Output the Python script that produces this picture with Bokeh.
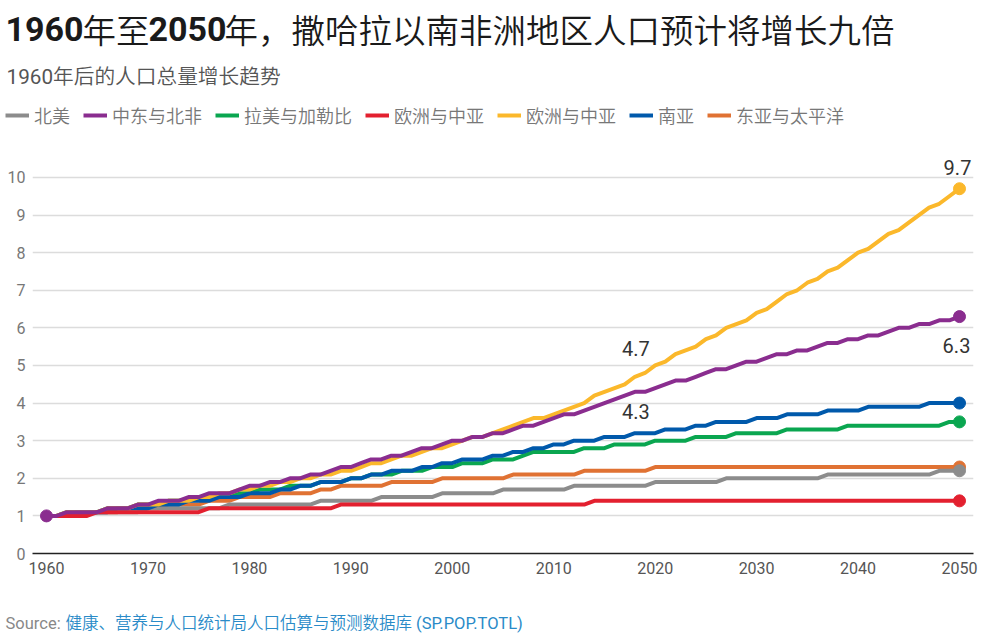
from bokeh.plotting import figure
from bokeh.models import Range1d, Label, Legend, LegendItem, FixedTicker
from bokeh.embed import file_html
from bokeh.resources import INLINE
from bokeh.core.properties import value

years = list(range(1960, 2051))

# Index, 1960 = 1
north_america = [
    1.0, 1.0, 1.0, 1.1, 1.1, 1.1, 1.1, 1.1, 1.1, 1.1,
    1.2, 1.2, 1.2, 1.2, 1.2, 1.2, 1.2, 1.2, 1.3, 1.3,
    1.3, 1.3, 1.3, 1.3, 1.3, 1.3, 1.3, 1.4, 1.4, 1.4,
    1.4, 1.4, 1.4, 1.5, 1.5, 1.5, 1.5, 1.5, 1.5, 1.6,
    1.6, 1.6, 1.6, 1.6, 1.6, 1.7, 1.7, 1.7, 1.7, 1.7,
    1.7, 1.7, 1.8, 1.8, 1.8, 1.8, 1.8, 1.8, 1.8, 1.8,
    1.9, 1.9, 1.9, 1.9, 1.9, 1.9, 1.9, 2.0, 2.0, 2.0,
    2.0, 2.0, 2.0, 2.0, 2.0, 2.0, 2.0, 2.1, 2.1, 2.1,
    2.1, 2.1, 2.1, 2.1, 2.1, 2.1, 2.1, 2.1, 2.2, 2.2,
    2.2]
mena = [
    1.0, 1.0, 1.1, 1.1, 1.1, 1.1, 1.2, 1.2, 1.2, 1.3,
    1.3, 1.4, 1.4, 1.4, 1.5, 1.5, 1.6, 1.6, 1.6, 1.7,
    1.8, 1.8, 1.9, 1.9, 2.0, 2.0, 2.1, 2.1, 2.2, 2.3,
    2.3, 2.4, 2.5, 2.5, 2.6, 2.6, 2.7, 2.8, 2.8, 2.9,
    3.0, 3.0, 3.1, 3.1, 3.2, 3.2, 3.3, 3.4, 3.4, 3.5,
    3.6, 3.7, 3.7, 3.8, 3.9, 4.0, 4.1, 4.2, 4.3, 4.3,
    4.4, 4.5, 4.6, 4.6, 4.7, 4.8, 4.9, 4.9, 5.0, 5.1,
    5.1, 5.2, 5.3, 5.3, 5.4, 5.4, 5.5, 5.6, 5.6, 5.7,
    5.7, 5.8, 5.8, 5.9, 6.0, 6.0, 6.1, 6.1, 6.2, 6.2,
    6.3]
latam = [
    1.0, 1.0, 1.1, 1.1, 1.1, 1.1, 1.2, 1.2, 1.2, 1.3,
    1.3, 1.3, 1.4, 1.4, 1.4, 1.5, 1.5, 1.5, 1.6, 1.6,
    1.6, 1.7, 1.7, 1.7, 1.8, 1.8, 1.8, 1.9, 1.9, 1.9,
    2.0, 2.0, 2.1, 2.1, 2.1, 2.2, 2.2, 2.2, 2.3, 2.3,
    2.3, 2.4, 2.4, 2.4, 2.5, 2.5, 2.5, 2.6, 2.7, 2.7,
    2.7, 2.7, 2.7, 2.8, 2.8, 2.8, 2.9, 2.9, 2.9, 2.9,
    3.0, 3.0, 3.0, 3.0, 3.1, 3.1, 3.1, 3.1, 3.2, 3.2,
    3.2, 3.2, 3.2, 3.3, 3.3, 3.3, 3.3, 3.3, 3.3, 3.4,
    3.4, 3.4, 3.4, 3.4, 3.4, 3.4, 3.4, 3.4, 3.4, 3.5,
    3.5]
europe = [
    1.0, 1.0, 1.0, 1.0, 1.0, 1.1, 1.1, 1.1, 1.1, 1.1,
    1.1, 1.1, 1.1, 1.1, 1.1, 1.1, 1.2, 1.2, 1.2, 1.2,
    1.2, 1.2, 1.2, 1.2, 1.2, 1.2, 1.2, 1.2, 1.2, 1.3,
    1.3, 1.3, 1.3, 1.3, 1.3, 1.3, 1.3, 1.3, 1.3, 1.3,
    1.3, 1.3, 1.3, 1.3, 1.3, 1.3, 1.3, 1.3, 1.3, 1.3,
    1.3, 1.3, 1.3, 1.3, 1.4, 1.4, 1.4, 1.4, 1.4, 1.4,
    1.4, 1.4, 1.4, 1.4, 1.4, 1.4, 1.4, 1.4, 1.4, 1.4,
    1.4, 1.4, 1.4, 1.4, 1.4, 1.4, 1.4, 1.4, 1.4, 1.4,
    1.4, 1.4, 1.4, 1.4, 1.4, 1.4, 1.4, 1.4, 1.4, 1.4,
    1.4]
ssa = [
    1.0, 1.0, 1.1, 1.1, 1.1, 1.1, 1.2, 1.2, 1.2, 1.3,
    1.3, 1.3, 1.4, 1.4, 1.4, 1.5, 1.5, 1.6, 1.6, 1.7,
    1.7, 1.8, 1.8, 1.9, 1.9, 2.0, 2.0, 2.1, 2.1, 2.2,
    2.2, 2.3, 2.4, 2.4, 2.5, 2.6, 2.6, 2.7, 2.8, 2.8,
    2.9, 3.0, 3.1, 3.1, 3.2, 3.3, 3.4, 3.5, 3.6, 3.6,
    3.7, 3.8, 3.9, 4.0, 4.2, 4.3, 4.4, 4.5, 4.7, 4.8,
    5.0, 5.1, 5.3, 5.4, 5.5, 5.7, 5.8, 6.0, 6.1, 6.2,
    6.4, 6.5, 6.7, 6.9, 7.0, 7.2, 7.3, 7.5, 7.6, 7.8,
    8.0, 8.1, 8.3, 8.5, 8.6, 8.8, 9.0, 9.2, 9.3, 9.5,
    9.7]
south_asia = [
    1.0, 1.0, 1.0, 1.1, 1.1, 1.1, 1.1, 1.2, 1.2, 1.2,
    1.2, 1.3, 1.3, 1.3, 1.4, 1.4, 1.4, 1.5, 1.5, 1.5,
    1.6, 1.6, 1.6, 1.7, 1.7, 1.8, 1.8, 1.9, 1.9, 1.9,
    2.0, 2.0, 2.1, 2.1, 2.2, 2.2, 2.2, 2.3, 2.3, 2.4,
    2.4, 2.5, 2.5, 2.5, 2.6, 2.6, 2.7, 2.7, 2.8, 2.8,
    2.9, 2.9, 3.0, 3.0, 3.0, 3.1, 3.1, 3.1, 3.2, 3.2,
    3.2, 3.3, 3.3, 3.3, 3.4, 3.4, 3.5, 3.5, 3.5, 3.5,
    3.6, 3.6, 3.6, 3.7, 3.7, 3.7, 3.7, 3.8, 3.8, 3.8,
    3.8, 3.9, 3.9, 3.9, 3.9, 3.9, 3.9, 4.0, 4.0, 4.0,
    4.0]
east_asia = [
    1.0, 1.0, 1.0, 1.1, 1.1, 1.1, 1.1, 1.1, 1.2, 1.2,
    1.2, 1.2, 1.3, 1.3, 1.3, 1.3, 1.4, 1.4, 1.4, 1.5,
    1.5, 1.5, 1.5, 1.6, 1.6, 1.6, 1.6, 1.7, 1.7, 1.8,
    1.8, 1.8, 1.8, 1.8, 1.9, 1.9, 1.9, 1.9, 1.9, 2.0,
    2.0, 2.0, 2.0, 2.0, 2.0, 2.0, 2.1, 2.1, 2.1, 2.1,
    2.1, 2.1, 2.1, 2.2, 2.2, 2.2, 2.2, 2.2, 2.2, 2.2,
    2.3, 2.3, 2.3, 2.3, 2.3, 2.3, 2.3, 2.3, 2.3, 2.3,
    2.3, 2.3, 2.3, 2.3, 2.3, 2.3, 2.3, 2.3, 2.3, 2.3,
    2.3, 2.3, 2.3, 2.3, 2.3, 2.3, 2.3, 2.3, 2.3, 2.3,
    2.3]

series_names = ["北美", "中东与北非", "拉美与加勒比", "欧洲与中亚", "欧洲与中亚", "南亚", "东亚与太平洋"]
series_values = [north_america, mena, latam, europe, ssa, south_asia, east_asia]
series_colors = ["#8c8c8c", "#8a2d8f", "#0aa650", "#e3202f", "#fbb82b", "#0059ab", "#e07233"]
draw_order = [6, 0, 2, 5, 4, 3, 1]

x_ticks = [1960, 1970, 1980, 1990, 2000, 2010, 2020, 2030, 2040, 2050]
y_ticks = [0, 1, 2, 3, 4, 5, 6, 7, 8, 9, 10]

title_parts = ["1960", "年至", "2050", "年，撒哈拉以南非洲地区人口预计将增长九倍"]
subtitle = "1960年后的人口总量增长趋势"
source_prefix = "Source:"
source_text = "健康、营养与人口统计局人口估算与预测数据库 (SP.POP.TOTL)"

# annotated points: (series index, year)
annot = [(4, 2050), (1, 2050), (4, 2018), (1, 2018)]

CJK = "Noto Sans CJK SC DemiLight, Noto Sans CJK SC"
LATIN = "Roboto, Noto Sans CJK SC DemiLight, Noto Sans CJK SC"
W = 981
HEAD_H = 146
MAIN_H = 443
FOOT_H = 48


def text_panel(h):
    f = figure(width=W, height=h, output_backend="svg", toolbar_location=None, tools="",
               x_range=Range1d(0, W), y_range=Range1d(h, 0), min_border=0,
               x_axis_type=None, y_axis_type=None)
    f.outline_line_color = None
    f.xgrid.visible = False
    f.ygrid.visible = False
    return f


# ---------- header: title, subtitle, legend ----------
head = text_panel(HEAD_H)
title_x = [5, 82, 148, 224]
title_bold = [True, False, True, False]
for txt, X, b in zip(title_parts, title_x, title_bold):
    head.add_layout(Label(x=X, y=28, text=txt,
                          text_font=("Roboto" if b else CJK),
                          text_font_style=("bold" if b else "normal"),
                          text_font_size=("34px" if b else "33.5px"), text_color="#1a1a1a",
                          text_baseline="middle"))
head.add_layout(Label(x=6, y=76, text=subtitle, text_font=LATIN, text_font_size="20.7px",
                      text_color="#555555", text_baseline="middle"))

legend_lines = []
for i in range(len(series_names)):
    legend_lines.append(head.line(x=[float("nan")], y=[float("nan")],
                                  line_color=series_colors[i], line_width=4))
legend = Legend(items=[LegendItem(label=series_names[i], renderers=[legend_lines[i]])
                       for i in range(len(series_names))],
                orientation="horizontal", location=(5, 18),
                glyph_width=24, glyph_height=20, label_standoff=5, spacing=13,
                padding=0, margin=0, border_line_color=None, background_fill_alpha=0,
                label_text_font=LATIN, label_text_font_size="18px",
                label_text_color="#777777", label_height=20, label_text_baseline="middle")
head.add_layout(legend)

# ---------- main chart ----------
p = figure(width=W, height=MAIN_H, output_backend="svg", toolbar_location=None, tools="",
           x_range=Range1d(1958.62, 2051.38), y_range=Range1d(0, 10.61),
           min_border_left=32, min_border_right=8, min_border_top=8, min_border_bottom=36)
p.outline_line_color = None

p.xgrid.grid_line_color = None
p.ygrid.grid_line_color = "#dcdcdc"
p.ygrid.grid_line_width = 1.5
p.ygrid.ticker = FixedTicker(ticks=y_ticks)

p.yaxis.ticker = FixedTicker(ticks=y_ticks)
p.yaxis.axis_line_color = None
p.yaxis.major_tick_line_color = None
p.yaxis.minor_tick_line_color = None
p.yaxis.major_tick_out = 0
p.yaxis.major_tick_in = 0
p.yaxis.minor_tick_out = 0
p.yaxis.major_label_standoff = 7
p.yaxis.major_label_text_font = "Roboto"
p.yaxis.major_label_text_font_size = "16px"
p.yaxis.major_label_text_color = "#777777"

p.xaxis.ticker = FixedTicker(ticks=x_ticks)
p.xaxis.axis_line_color = "#222222"
p.xaxis.axis_line_width = 1.5
p.xaxis.major_tick_line_color = None
p.xaxis.minor_tick_line_color = None
p.xaxis.major_tick_out = 0
p.xaxis.major_tick_in = 0
p.xaxis.minor_tick_out = 0
p.xaxis.major_label_standoff = 8
p.xaxis.major_label_text_font = "Roboto"
p.xaxis.major_label_text_font_size = "16px"
p.xaxis.major_label_text_color = "#555555"

for i in draw_order:
    p.line(years, series_values[i], line_color=series_colors[i], line_width=4, line_join="round")
    p.scatter([years[-1]], [series_values[i][-1]], size=12, color=series_colors[i])
p.scatter([years[0]], [mena[0]], size=12, color=series_colors[1])

ax = [yr for (_, yr) in annot]
ay = [series_values[s][years.index(yr)] for (s, yr) in annot]
at = ["%.1f" % v for v in ay]
p.text(x=ax, y=ay, text=at, x_offset=[-2, -3, 1, 1], y_offset=[-21, 29, -28, 20],
       text_align="center", text_baseline="middle", text_font=value("Roboto"),
       text_font_size="20px", text_color="#333333")

# ---------- footer: source ----------
foot = text_panel(FOOT_H)
foot.add_layout(Label(x=5, y=34, text=source_prefix, text_font="Roboto", text_font_size="16.5px",
                      text_color="#888888", text_baseline="middle"))
foot.add_layout(Label(x=65, y=34, text=source_text, text_font=LATIN, text_font_size="16.5px",
                      text_color="#2a8bc8", text_baseline="middle"))

open("out.html", "w").write(file_html([head, p, foot], INLINE))
